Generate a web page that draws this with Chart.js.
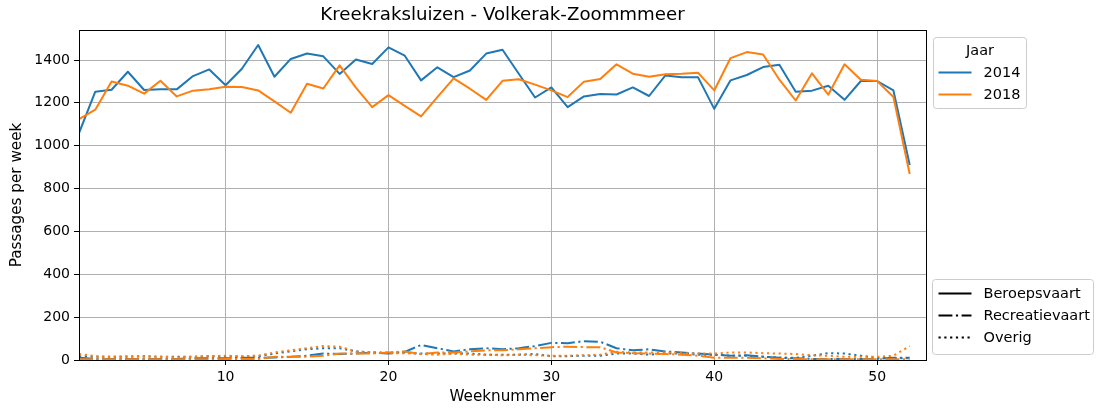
<!DOCTYPE html>
<html>
<head>
<meta charset="utf-8">
<script src="https://cdn.jsdelivr.net/npm/chart.js@4"></script>
<style>
  html,body{margin:0;padding:0;background:#fff;}
  canvas{display:block;}
</style>
</head>
<body>
<canvas id="chart" width="1100" height="412"></canvas>
<script>
/* ── data ─────────────────────────────────── */
const weeks = [1,2,3,4,5,6,7,8,9,10,11,12,13,14,15,16,17,18,19,20,21,22,23,24,25,26,
               27,28,29,30,31,32,33,34,35,36,37,38,39,40,41,42,43,44,45,46,47,48,49,50,51,52];

const beroep2014 = [1059,1252,1261,1345,1260,1264,1263,1325,1356,1282,1359,1470,1322,1405,1430,1417,1335,1402,1381,1459,
                    1420,1305,1366,1320,1351,1430,1448,1336,1225,1272,1180,1230,1241,1239,1272,1232,1328,1319,1320,1172,
                    1305,1330,1367,1378,1252,1257,1280,1214,1302,1302,1258,910];
const beroep2018 = [1124,1168,1300,1280,1243,1303,1230,1257,1264,1275,1274,1258,1207,1154,1289,1267,1375,1271,1180,1236,
                    1186,1137,1227,1314,1266,1214,1303,1310,1285,1258,1227,1299,1311,1380,1336,1322,1333,1336,1341,1258,
                    1409,1437,1426,1308,1211,1338,1238,1380,1308,1302,1227,868];

const recreatie2014 = [10,5,5,5,5,5,5,8,8,8,10,10,12,15,20,30,28,30,35,30,
                       38,70,55,40,50,55,50,55,65,80,78,88,85,55,45,50,40,35,30,25,
                       20,22,15,10,8,5,5,5,5,5,10,10];
const recreatie2018 = [3,3,3,3,3,3,3,3,3,5,5,5,15,15,15,20,30,30,30,35,
                       40,28,35,35,40,45,45,50,55,60,62,60,60,35,32,30,28,25,20,10,
                       10,10,8,5,5,3,3,3,3,3,3,3];

const overig2014 = [18,15,15,15,18,15,15,15,18,18,15,18,30,40,50,55,55,40,35,35,
                    35,30,30,30,30,25,25,25,28,18,18,20,20,30,30,25,30,30,25,25,
                    20,20,15,12,10,20,32,30,20,10,8,8];
const overig2018 = [28,18,15,18,15,15,12,15,18,20,18,20,35,45,55,65,62,40,35,30,
                    32,28,25,30,25,25,22,25,22,20,20,22,25,38,35,35,35,32,30,30,
                    35,35,32,30,28,22,20,15,15,15,20,65];

const xTicks = [10,20,30,40,50];
const yTicks = [0,200,400,600,800,1000,1200,1400];

const chartTitle  = 'Kreekraksluizen - Volkerak-Zoommmeer';
const yearLabels  = ['2014','2018'];
const yearColors  = ['#1f77b4','#ff7f0e'];
const typeLabels  = ['Beroepsvaart','Recreatievaart','Overig'];
const typeDashes  = [[], [13.9,3.5,2.2,3.5], [2.2,3.6]];

/* ── build datasets ───────────────────────── */
const pts = arr => weeks.map((w,i)=>({x:w, y:arr[i]}));
const seriesByYear = [
  [beroep2014, recreatie2014, overig2014],
  [beroep2018, recreatie2018, overig2018],
];
const datasets = [];
seriesByYear.forEach((list,yi)=>{
  list.forEach((arr,ti)=>{
    datasets.push({
      label: typeLabels[ti]+' '+yearLabels[yi],
      data: pts(arr),
      borderColor: yearColors[yi],
      borderWidth: 2,
      borderDash: typeDashes[ti],
      borderCapStyle: 'butt',
      borderJoinStyle: 'round',
      pointRadius: 0,
      tension: 0,
      fill: false,
      order: 10 - (yi*3+ti)
    });
  });
});

/* ── frame (top/right spines), title + legends ── */
const FONT = 'DejaVu Sans';
const framePlugin = {
  id:'frame',
  afterDatasetsDraw(chart){
    const {ctx, chartArea:a} = chart;
    ctx.save();
    ctx.strokeStyle = '#000';
    ctx.lineWidth = 1;
    ctx.strokeRect(Math.round(a.left)+0.5, Math.round(a.top)+0.5, Math.round(a.right-a.left), Math.round(a.bottom-a.top));
    // title centred over the axes, like matplotlib
    ctx.fillStyle = '#000';
    ctx.font = '18.2px "'+FONT+'"';
    ctx.textAlign = 'center';
    ctx.textBaseline = 'middle';
    ctx.fillText(chartTitle, (a.left+a.right)/2, a.top-15);
    ctx.restore();
  }
};

function legendBox(ctx,x,y,w,h){
  const r = 3;
  ctx.beginPath();
  ctx.moveTo(x+r,y); ctx.lineTo(x+w-r,y); ctx.arcTo(x+w,y,x+w,y+r,r);
  ctx.lineTo(x+w,y+h-r); ctx.arcTo(x+w,y+h,x+w-r,y+h,r);
  ctx.lineTo(x+r,y+h); ctx.arcTo(x,y+h,x,y+h-r,r);
  ctx.lineTo(x,y+r); ctx.arcTo(x,y,x+r,y,r);
  ctx.closePath();
  ctx.fillStyle = 'rgba(255,255,255,0.8)';
  ctx.fill();
  ctx.strokeStyle = '#cccccc';
  ctx.lineWidth = 1;
  ctx.stroke();
}

const legendPlugin = {
  id:'mplLegends',
  afterDraw(chart){
    const {ctx, chartArea:a} = chart;
    ctx.save();
    ctx.font = '14.5px "'+FONT+'"';
    ctx.textBaseline = 'middle';
    const lx = Math.round(a.right)+7.5;
    const lineX0 = lx+5, lineX1 = lx+38, textX = lx+50;

    // Jaar legend
    const t1 = Math.round(a.top)+7.5;
    legendBox(ctx, lx, t1, 93, 71);
    ctx.fillStyle = '#000';
    ctx.textAlign = 'center';
    ctx.fillText('Jaar', lx+46.5, t1+14);
    ctx.textAlign = 'left';
    yearLabels.forEach((lab,i)=>{
      const y = t1+35+i*22;
      ctx.strokeStyle = yearColors[i];
      ctx.lineWidth = 2;
      ctx.setLineDash([]);
      ctx.beginPath(); ctx.moveTo(lineX0,y); ctx.lineTo(lineX1,y); ctx.stroke();
      ctx.fillStyle = '#000';
      ctx.fillText(lab, textX, y+1);
    });

    // type legend
    const t2 = Math.round(a.bottom)-80.5;
    legendBox(ctx, lx-1, t2, 161, 75);
    typeLabels.forEach((lab,i)=>{
      const y = t2+14+i*22;
      ctx.strokeStyle = '#000';
      ctx.lineWidth = 2;
      ctx.lineCap = 'butt';
      ctx.setLineDash(typeDashes[i]);
      ctx.beginPath(); ctx.moveTo(lineX0,y); ctx.lineTo(lineX1,y); ctx.stroke();
      ctx.setLineDash([]);
      ctx.fillStyle = '#000';
      ctx.fillText(lab, textX, y+1);
    });
    ctx.restore();
  }
};

/* ── chart ────────────────────────────────── */
Chart.defaults.font.family = FONT;
Chart.defaults.color = '#000';

new Chart(document.getElementById('chart').getContext('2d'), {
  type:'line',
  data:{datasets},
  options:{
    responsive:false,
    animation:false,
    devicePixelRatio:1,
    layout:{padding:{left:0,right:174,top:30,bottom:0}},
    plugins:{
      legend:{display:false},
      tooltip:{enabled:false},
      title:{display:false}
    },
    scales:{
      x:{
        type:'linear', min:1, max:53,
        afterBuildTicks:s=>{ s.ticks = xTicks.map(v=>({value:v})); },
        afterFit:s=>{ s.height = 52; },
        grid:{color:'#b0b0b0',lineWidth:1,tickColor:'#000',tickLength:5},
        border:{color:'#000',width:1},
        ticks:{color:'#000',font:{size:14},padding:4,maxRotation:0,callback:v=>String(v)},
        title:{display:true,text:'Weeknummer',color:'#000',font:{size:15.2},padding:{top:0,bottom:6}}
      },
      y:{
        type:'linear', min:0, max:1540,
        afterBuildTicks:s=>{ s.ticks = yTicks.map(v=>({value:v})); },
        afterFit:s=>{ s.width = 79; },
        grid:{color:'#b0b0b0',lineWidth:1,tickColor:'#000',tickLength:5},
        border:{color:'#000',width:1},
        ticks:{color:'#000',font:{size:14},padding:4,callback:v=>String(v)},
        title:{display:true,text:'Passages per week',color:'#000',font:{size:15.2},padding:{top:8,bottom:0}}
      }
    }
  },
  plugins:[framePlugin, legendPlugin]
});
</script>
</body>
</html>
